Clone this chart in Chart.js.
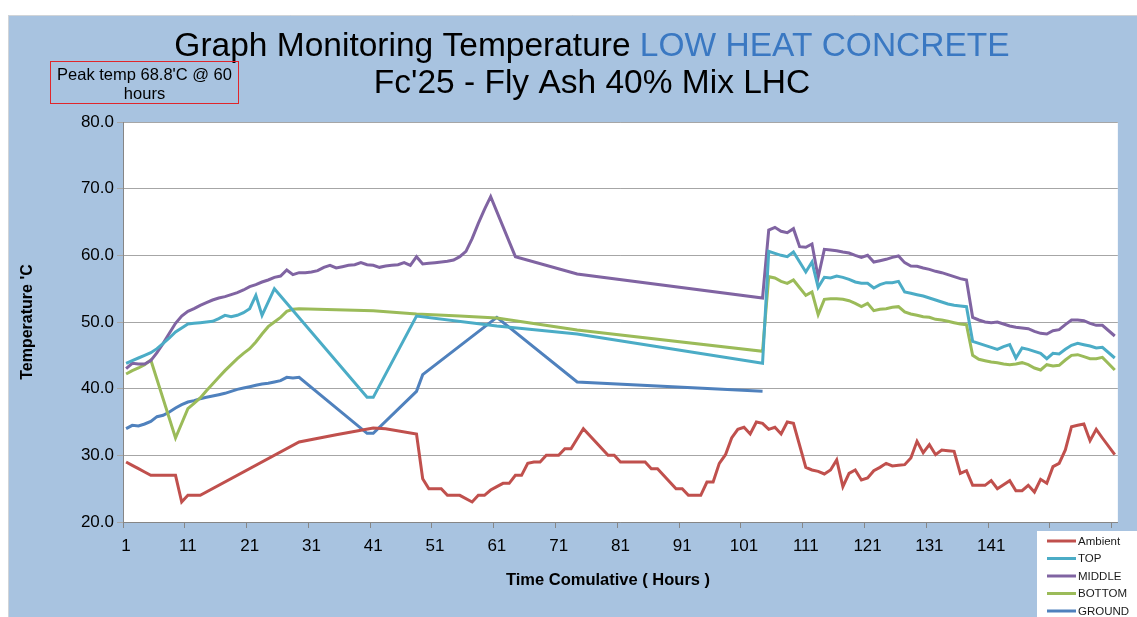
<!DOCTYPE html>
<html>
<head>
<meta charset="utf-8">
<title>Graph Monitoring Temperature LOW HEAT CONCRETE</title>
<script src="https://cdn.jsdelivr.net/npm/chart.js@4.4.1/dist/chart.umd.min.js"></script>
<style>
  html, body { margin: 0; padding: 0; background: #fff; }
  #wrap { position: relative; width: 1137px; height: 617px; }
</style>
</head>
<body>
<div id="wrap"><canvas id="tempChart"></canvas></div>
<script>
// --- Data (hours 1..161, one value per hour, null = no reading, line is joined across) ---
const N = null;

const hourLabels = Array.from({ length: 161 }, (_, i) => String(i + 1));

const ambient = [
  29, 28.5, 28, 27.5, 27, 27, 27, 27, 27, 23,            // 1-10
  24, 24, 24, N, N, N, N, N, N, N,                       // 11-20
  N, N, N, N, N, N, N, N, 32, N,                         // 21-30
  N, N, N, N, 33.1, N, N, N, N, N,                       // 31-40
  34.1, N, 34, N, N, N, N, 33.2, 26.5, 25,               // 41-50
  25, 25, 24, 24, 24, N, 23, 24, 24, 24.8,               // 51-60
  25.3, 25.8, 25.8, 27, 27, 28.8, 29, 29, 30, 30,        // 61-70
  30, 31, 31, N, 34, N, N, N, 30, 30,                    // 71-80
  29, 29, 29, 29, 29, 28, 28, N, N, 25,                  // 81-90
  25, 24, 24, 24, 26, 26, 28.8, 30.1, 32.6, 33.9,        // 91-100
  34.2, 33.2, 35, 34.8, 33.9, 34.2, 33.2, 35, 34.8, N,   // 101-110
  28.2, 27.8, 27.6, 27.2, 27.8, 29.3, 25.3, 27.3, 27.8, 26.3, // 111-120
  26.6, 27.7, 28.2, 28.8, 28.4, 28.5, 28.6, 29.6, 32.1, 30.4, // 121-130
  31.6, 30.1, 30.8, 30.7, 30.6, 27.3, 27.7, 25.5, 25.5, 25.5, // 131-140
  26.2, 25, 25.6, 26.2, 24.7, 24.7, 25.5, 24.5, 26.4, 25.8,   // 141-150
  28.3, 28.8, 30.8, 34.3, 34.5, 34.7, 32.2, 33.9, 32.6, N,    // 151-160
  30.1                                                   // 161
];

const top_ = [
  43.8, 44.2, 44.6, 45, 45.4, 46, 46.8, 47.6, 48.5, 49.1, // 1-10
  49.7, 49.8, 49.9, 50, 50.1, 50.5, 51, 50.8, 51, 51.4,   // 11-20
  52, 54, 51, N, 55, N, N, N, N, N,                       // 21-30
  N, N, N, N, N, N, N, N, N, 38.7,                        // 31-40
  38.7, N, N, N, N, N, N, 50.9, N, N,                     // 41-50
  N, N, N, N, N, N, N, N, N, N,                           // 51-60
  49.4, N, N, N, N, N, N, N, N, N,                        // 61-70
  N, N, N, 48.2, N, N, N, N, N, N,                        // 71-80
  N, N, N, N, N, N, N, N, N, N,                           // 81-90
  N, N, N, N, N, N, N, N, N, N,                           // 91-100
  N, N, N, 43.8, 60.6, 60.3, 60, 59.8, 60.5, N,           // 101-110
  57.5, 59, 55.2, 56.7, 56.6, 56.9, 56.7, 56.4, 56, 55.8, // 111-120
  55.8, 55.1, 55.6, 55.9, 55.9, 56.1, 54.5, 54.3, 54.1, 53.9, // 121-130
  53.6, 53.3, 53, 52.7, 52.5, 52.4, 52.3, 47.1, 46.8, 46.5,   // 131-140
  46.2, 45.9, 46.3, 46.6, 44.6, 46.1, 45.9, 45.6, 45.3, 44.5, // 141-150
  45.3, 45.2, 45.9, 46.5, 46.8, 46.6, 46.4, 46.1, 46.2, N,    // 151-160
  44.6                                                    // 161
];

const middle = [
  43, 43.8, 43.7, 43.7, 44.2, 45.4, 46.8, 48.3, 49.8, 50.9,   // 1-10
  51.6, 52, 52.5, 52.9, 53.3, 53.6, 53.8, 54.1, 54.4, 54.8,   // 11-20
  55.3, 55.6, 56, 56.3, 56.7, 56.9, 57.8, 57.1, 57.4, 57.4,   // 21-30
  57.5, 57.7, 58.2, 58.5, 58.1, 58.3, 58.5, 58.6, 58.9, 58.6, // 31-40
  58.5, 58.2, 58.4, 58.5, 58.6, 58.9, 58.5, 59.8, 58.7, 58.8, // 41-50
  58.9, 59, 59.1, 59.3, 59.8, 60.6, 62.5, 64.8, 66.9, 68.8,   // 51-60
  N, N, N, 59.8, N, N, N, N, N, N,                            // 61-70
  N, N, N, 57.2, N, N, N, N, N, N,                            // 71-80
  N, N, N, N, N, N, N, N, N, N,                               // 81-90
  N, N, N, N, N, N, N, N, N, N,                               // 91-100
  N, N, N, 53.6, 63.8, 64.2, 63.6, 63.4, 64, 61.3,            // 101-110
  61.2, 61.7, 56.7, 60.9, 60.8, 60.7, 60.5, 60.35, 60, 59.7,  // 111-120
  60, 59, 59.2, 59.4, 59.7, 59.9, 58.9, 58.4, 58.35, 58.1,    // 121-130
  57.9, 57.6, 57.4, 57.1, 56.8, 56.5, 56.3, 50.7, 50.3, 50,   // 131-140
  49.9, 50, 49.7, 49.4, 49.2, 49.1, 49, 48.6, 48.3, 48.2,     // 141-150
  48.7, 48.85, 49.6, 50.3, 50.3, 50.2, 49.8, 49.5, 49.5, N,   // 151-160
  47.9                                                        // 161
];

const bottom = [
  42.2, 42.7, 43.1, 43.6, 44.3, N, N, N, 32.6, N,             // 1-10
  37, 37.8, 38.6, 39.7, 40.7, 41.7, 42.7, 43.6, 44.5, 45.3,   // 11-20
  46, 47, 48.2, 49.3, 50, 50.7, 51.6, 51.9, 52, N,            // 21-30
  N, N, N, N, N, N, N, N, N, N,                               // 31-40
  51.7, N, N, N, N, N, N, 51.2, N, N,                         // 41-50
  N, N, N, N, 50.9, N, N, N, N, N,                            // 51-60
  50.6, N, N, N, N, N, N, N, N, N,                            // 61-70
  N, N, N, 48.8, N, N, N, N, N, N,                            // 71-80
  N, N, N, N, N, N, N, N, N, N,                               // 81-90
  N, N, N, N, N, N, N, N, N, N,                               // 91-100
  N, N, N, 45.6, 56.8, 56.6, 56.1, 55.8, 56.3, N,             // 101-110
  54, 54.5, 51.1, 53.4, 53.5, 53.5, 53.4, 53.2, 52.8, 52.3,   // 111-120
  52.8, 51.7, 51.9, 52, 52.2, 52.3, 51.5, 51.2, 51, 50.8,     // 121-130
  50.7, 50.4, 50.3, 50.1, 49.9, 49.7, 49.6, 45, 44.4, 44.2,   // 131-140
  44, 43.9, 43.7, 43.6, 43.7, 43.9, 43.6, 43.1, 42.8, 43.6,   // 141-150
  43.4, 43.5, 44.3, 45, 45.1, 44.8, 44.5, 44.5, 44.7, N,      // 151-160
  42.8                                                        // 161
];

const ground = [
  34, 34.5, 34.4, 34.7, 35.1, 35.8, 36, 36.5, 37.1, 37.6,     // 1-10
  38, 38.2, 38.5, 38.7, 38.9, 39.1, 39.3, 39.6, 39.9, 40.1,   // 11-20
  40.3, 40.5, 40.7, 40.8, 41, 41.2, 41.7, 41.6, 41.7, N,      // 21-30
  N, N, N, N, N, N, N, N, N, 33.3,                            // 31-40
  33.3, N, N, N, N, N, N, 39.6, 42.1, N,                      // 41-50
  N, N, N, N, N, N, N, N, N, N,                               // 51-60
  50.7, N, N, N, N, N, N, N, N, N,                            // 61-70
  N, N, N, 41, N, N, N, N, N, N,                              // 71-80
  N, N, N, N, N, N, N, N, N, N,                               // 81-90
  N, N, N, N, N, N, N, N, N, N,                               // 91-100
  N, N, N, 39.6                                               // 101-104
];

const seriesNames = ['Ambient', 'TOP', 'MIDDLE', 'BOTTOM', 'GROUND'];
const seriesColors = ['#C0504D', '#4BACC6', '#8064A2', '#9BBB59', '#4F81BD'];
const seriesValues = [ambient, top_, middle, bottom, ground];

const yTicks = [20, 30, 40, 50, 60, 70, 80];

// --- Look ---
const FONT = "'Liberation Sans', Arial, sans-serif";
const PAGE_BLUE = '#A8C3E0';

const decorations = {
  id: 'decorations',
  beforeDraw(chart) {
    const { ctx, chartArea: a } = chart;
    ctx.save();
    ctx.fillStyle = '#ffffff';
    ctx.fillRect(0, 0, chart.width, chart.height);
    ctx.fillStyle = PAGE_BLUE;
    ctx.fillRect(8, 15, chart.width - 8, chart.height - 15);
    ctx.strokeStyle = '#d0d4d8';
    ctx.lineWidth = 1;
    ctx.beginPath();
    ctx.moveTo(8, 15.5); ctx.lineTo(chart.width, 15.5);
    ctx.moveTo(8.5, 15); ctx.lineTo(8.5, chart.height);
    ctx.stroke();
    ctx.fillStyle = '#ffffff';
    ctx.fillRect(a.left, a.top, a.right - a.left, a.bottom - a.top);
    ctx.restore();
  },
  afterDraw(chart) {
    const { ctx } = chart;
    ctx.save();

    // two-colour title
    ctx.textBaseline = 'alphabetic';
    ctx.font = `33.5px ${FONT}`;
    const partA = 'Graph Monitoring Temperature ';
    const partB = 'LOW HEAT CONCRETE';
    const wA = ctx.measureText(partA).width;
    const wB = ctx.measureText(partB).width;
    let x0 = 592 - (wA + wB) / 2;
    ctx.textAlign = 'left';
    ctx.fillStyle = '#000000';
    ctx.fillText(partA, x0, 56);
    ctx.fillStyle = '#3A78C2';
    ctx.fillText(partB, x0 + wA, 56);
    ctx.textAlign = 'center';
    ctx.fillStyle = '#000000';
    ctx.fillText("Fc'25 - Fly Ash 40% Mix LHC", 592, 93);

    // peak note
    ctx.strokeStyle = '#E0262B';
    ctx.lineWidth = 1;
    ctx.strokeRect(50.5, 61.5, 188, 42);
    ctx.font = `16.5px ${FONT}`;
    ctx.fillStyle = '#000000';
    ctx.textBaseline = 'middle';
    ctx.fillText("Peak temp 68.8'C @ 60", 144.5, 75);
    ctx.fillText('hours', 144.5, 94);

    // axis titles
    ctx.font = `bold 16.5px ${FONT}`;
    ctx.fillText('Time Comulative ( Hours )', 608, 580);
    ctx.save();
    ctx.translate(28, 322);
    ctx.rotate(-Math.PI / 2);
    ctx.font = `bold 16px ${FONT}`;
    ctx.fillText("Temperature 'C", 0, 0);
    ctx.restore();

    // legend box
    ctx.fillStyle = '#ffffff';
    ctx.fillRect(1037, 531, 100, 86);
    ctx.font = `11.5px ${FONT}`;
    ctx.textAlign = 'left';
    chart.data.datasets.forEach((ds, i) => {
      const y = 541 + i * 17.5;
      ctx.strokeStyle = ds.borderColor;
      ctx.lineWidth = 3;
      ctx.beginPath();
      ctx.moveTo(1047, y); ctx.lineTo(1076, y);
      ctx.stroke();
      ctx.fillStyle = '#1a1a1a';
      ctx.fillText(ds.label, 1078, y + 0.5);
    });

    ctx.restore();
  }
};

const datasets = seriesNames.map((name, i) => ({
  label: name,
  data: seriesValues[i],
  borderColor: seriesColors[i],
  backgroundColor: seriesColors[i],
  borderWidth: 3,
  pointRadius: 0,
  pointHoverRadius: 0,
  tension: 0,
  fill: false,
  spanGaps: true
}));

new Chart(document.getElementById('tempChart').getContext('2d'), {
  type: 'line',
  data: { labels: hourLabels, datasets },
  plugins: [decorations],
  options: {
    responsive: true,
    maintainAspectRatio: false,
    animation: false,
    layout: { padding: { top: 122, right: 17, left: 0, bottom: 0 } },
    plugins: {
      legend: { display: false },
      title: { display: false },
      tooltip: { enabled: false }
    },
    scales: {
      x: {
        type: 'category',
        offset: true,
        grid: {
          display: true,
          offset: true,
          drawOnChartArea: false,
          drawTicks: true,
          tickLength: 6,
          color: (c) => (c.index % 10 === 0 ? '#868686' : 'rgba(0,0,0,0)')
        },
        border: { display: true, color: '#868686', width: 1 },
        ticks: {
          autoSkip: false,
          maxRotation: 0,
          minRotation: 0,
          padding: 8,
          color: '#000000',
          font: { family: FONT, size: 17 },
          callback: function (val, idx) {
            return idx % 10 === 0 ? this.getLabelForValue(val) : '';
          }
        },
        afterFit: (s) => { s.height = 95; }
      },
      y: {
        min: yTicks[0],
        max: yTicks[yTicks.length - 1],
        afterBuildTicks: (s) => { s.ticks = yTicks.map(v => ({ value: v })); },
        grid: { color: '#A6A6A6', lineWidth: 1, tickLength: 6 },
        border: { display: true, color: '#868686', width: 1 },
        ticks: {
          padding: 3,
          color: '#000000',
          font: { family: FONT, size: 17 },
          callback: (v) => Number(v).toFixed(1)
        },
        afterFit: (s) => { s.width = 123; }
      }
    }
  }
});
</script>
</body>
</html>
